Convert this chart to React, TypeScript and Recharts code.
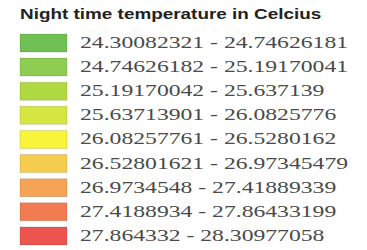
import { Bar, BarChart, Cell, LabelList, XAxis, YAxis } from "recharts";

const title = "Night time temperature in Celcius";

const rangeLabels = [
  "24.30082321 - 24.74626181",
  "24.74626182 - 25.19170041",
  "25.19170042 - 25.637139",
  "25.63713901 - 26.0825776",
  "26.08257761 - 26.5280162",
  "26.52801621 - 26.97345479",
  "26.9734548 - 27.41889339",
  "27.4188934 - 27.86433199",
  "27.864332 - 28.30977058",
];

const swatchColors = [
  "#70c054",
  "#8fcc52",
  "#b0d840",
  "#d6e640",
  "#f8f43c",
  "#f6cc4e",
  "#f4a454",
  "#f17c52",
  "#ec5450",
];

// every legend swatch is drawn as a full-length bar
const data = rangeLabels.map((label) => ({ label, swatch: 1 }));

function RangeLabel(props: any) {
  const { x, y, width, height, value } = props;
  const tx = Number(x) + Number(width) + 13;
  const ty = Number(y) + Number(height) / 2 + 5;
  return (
    <text
      transform={`translate(${tx}, ${ty}) scale(1.48, 1)`}
      style={{ fontFamily: "Liberation Serif, Times New Roman, serif", fontSize: 16 }}
      fill="#4a4a4a"
    >
      {value}
    </text>
  );
}

export default function App() {
  return (
    <div style={{ position: "absolute", left: 0, top: 0, width: 367, height: 250, background: "#fff" }}>
      <BarChart
        width={367}
        height={250}
        data={data}
        layout="vertical"
        margin={{ top: 31, right: 300, bottom: 2, left: 20 }}
      >
        <XAxis type="number" domain={[0, 1]} hide />
        <YAxis type="category" dataKey="label" hide />
        <Bar dataKey="swatch" barSize={18} isAnimationActive={false} stroke="rgba(0,0,0,0.12)" strokeWidth={1}>
          {data.map((d, i) => (
            <Cell key={d.label} fill={swatchColors[i]} />
          ))}
          <LabelList dataKey="label" content={RangeLabel} />
        </Bar>
        <text
          transform="translate(20, 19) scale(1.35, 1)"
          style={{ fontFamily: "Liberation Sans, Arial, sans-serif", fontSize: 14, fontWeight: "bold" }}
          fill="#222"
        >
          {title}
        </text>
      </BarChart>
    </div>
  );
}
